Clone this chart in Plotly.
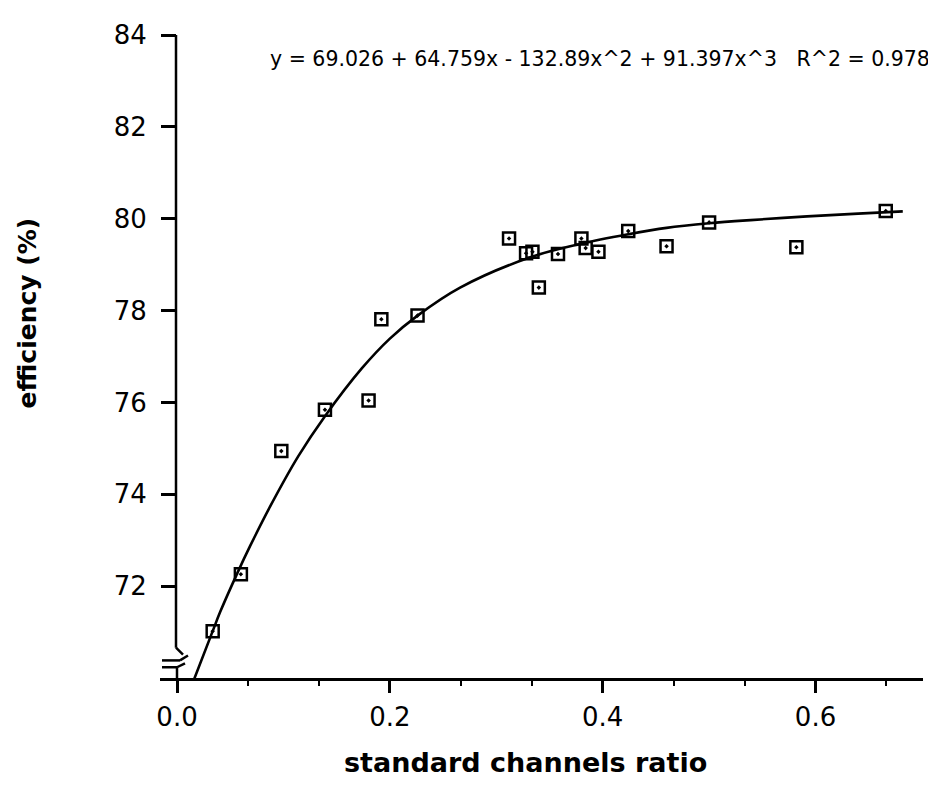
import plotly.graph_objects as go

# measured points
ratio = [0.0335, 0.060, 0.098, 0.139, 0.180, 0.192, 0.226, 0.312, 0.328, 0.334,
         0.340, 0.358, 0.380, 0.384, 0.396, 0.424, 0.460, 0.500, 0.582, 0.666]
efficiency = [71.02, 72.26, 74.94, 75.84, 76.04, 77.81, 77.89, 79.57, 79.25, 79.28,
              78.50, 79.23, 79.57, 79.36, 79.28, 79.73, 79.40, 79.92, 79.38, 80.17]

# fitted curve as drawn in the picture
fit_x = [0.012, 0.0335, 0.0404, 0.057, 0.0686, 0.0874, 0.114, 0.139, 0.1736, 0.200,
         0.226, 0.266, 0.332, 0.379, 0.424, 0.460, 0.500, 0.539, 0.592, 0.640, 0.682]
fit_y = [69.73, 71.02, 71.43, 72.30, 72.87, 73.73, 74.83, 75.70, 76.74, 77.39,
         77.89, 78.50, 79.16, 79.45, 79.66, 79.80, 79.90, 79.97, 80.05, 80.11, 80.16]

x_ticks = [0.0, 0.2, 0.4, 0.6]
x_tick_labels = ["0.0", "0.2", "0.4", "0.6"]
y_ticks = [72, 74, 76, 78, 80, 82, 84]
y_tick_labels = ["72", "74", "76", "78", "80", "82", "84"]

equation = "y = 69.026 + 64.759x - 132.89x^2 + 91.397x^3\u00a0\u00a0\u00a0R^2 = 0.978"

# page body has an 8px margin, so the figure is made 8px smaller
OFF = 8
W, H = 936 - OFF, 788 - OFF
L, T = 160 - OFF, 20 - OFF
PW, PH = 763, 658
R, B = W - L - PW, H - T - PH

def fx(px):  # reference pixel -> paper x
    return (px - OFF - L) / PW

def fy(py):  # reference pixel -> paper y
    return (T + PH - (py - OFF)) / PH

FONT = "DejaVu Sans"

fig = go.Figure()
fig.add_trace(go.Scatter(x=fit_x, y=fit_y, mode="lines",
                         line=dict(color="black", width=2.6, shape="spline", smoothing=1.0),
                         hoverinfo="skip", showlegend=False))
fig.add_trace(go.Scatter(x=ratio, y=efficiency, mode="markers",
                         marker=dict(symbol="square-open-dot", size=12, color="black",
                                     line=dict(color="black", width=2.5)),
                         showlegend=False))

yaxis_pos = fx(176)

fig.update_layout(
    width=W, height=H,
    margin=dict(l=L, r=R, t=T, b=B),
    paper_bgcolor="white", plot_bgcolor="white",
    font=dict(family=FONT, color="black", size=26),
    xaxis=dict(range=[-0.016, 0.701], showgrid=False, zeroline=False,
               showline=True, linecolor="black", linewidth=2.5,
               ticks="outside", ticklen=12, tickwidth=2.5, tickcolor="black",
               tickvals=x_ticks, ticktext=x_tick_labels,
               tickfont=dict(family=FONT, size=26), ticklabelstandoff=2,
               ticklabeloverflow="allow",
               minor=dict(ticks="outside", ticklen=5, tickwidth=2, tickcolor="black",
                          dtick=0.2 / 3, tick0=0, showgrid=False)),
    yaxis=dict(range=[70, 84], showgrid=False, zeroline=False, showline=False,
               anchor="free", position=yaxis_pos,
               ticks="outside", ticklen=15, tickwidth=2.5, tickcolor="black",
               tickvals=y_ticks, ticktext=y_tick_labels,
               tickfont=dict(family=FONT, size=26), ticklabelstandoff=9,
               ticklabeloverflow="allow"),
)

# y-axis line with break symbol (decoration), in reference pixels
segs = [((176, 20), (176, 647)), ((176, 647), (183, 654)),
        ((162, 660), (180, 660)), ((180, 660), (188, 655)),
        ((162, 667), (177, 667)), ((177, 667), (185, 663)),
        ((177, 667), (177, 678))]
for (x0, y0), (x1, y1) in segs:
    fig.add_shape(type="line", xref="paper", yref="paper",
                  x0=fx(x0), y0=fy(y0), x1=fx(x1), y1=fy(y1),
                  line=dict(color="black", width=2.5))

fig.add_annotation(text=equation, xref="paper", yref="paper",
                   x=fx(268), y=fy(45), xanchor="left", yanchor="middle",
                   showarrow=False, font=dict(family=FONT, size=20.5))
fig.add_annotation(text="<b>standard channels ratio</b>", xref="paper", yref="paper",
                   x=fx(525), y=fy(764), xanchor="center", yanchor="middle",
                   showarrow=False, font=dict(family=FONT, size=27))
fig.add_annotation(text="<b>efficiency (%)</b>", xref="paper", yref="paper",
                   x=fx(28), y=fy(305), xanchor="center", yanchor="middle",
                   textangle=-90, showarrow=False, font=dict(family=FONT, size=25))

fig.write_html("out.html")
